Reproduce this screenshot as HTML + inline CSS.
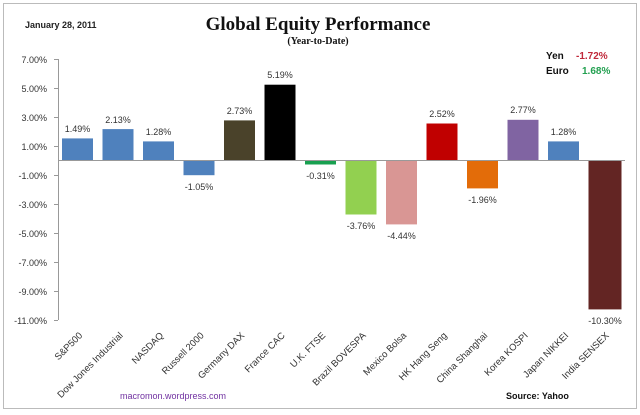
<!DOCTYPE html>
<html><head><meta charset="utf-8"><style>body{margin:0;background:#fff}svg{display:block}</style></head><body>
<svg width="640" height="415" xmlns="http://www.w3.org/2000/svg" font-family="Liberation Sans, sans-serif">
<rect x="0" y="0" width="640" height="415" fill="#fff"/>
<rect x="3.5" y="3.5" width="633" height="405" fill="none" stroke="#bbb"/>
<text x="25" y="28" font-size="9" font-weight="bold" fill="#222">January 28, 2011</text>
<text x="318" y="30" font-size="19" font-weight="bold" font-family="Liberation Serif, serif" text-anchor="middle" fill="#111">Global Equity Performance</text>
<text x="318" y="44" font-size="10" font-weight="bold" font-family="Liberation Serif, serif" text-anchor="middle" fill="#111">(Year-to-Date)</text>
<text x="546" y="59" font-size="10" font-weight="bold" fill="#111">Yen</text>
<text x="576" y="59" font-size="10" font-weight="bold" fill="#c0283a">-1.72%</text>
<text x="546" y="74" font-size="10" font-weight="bold" fill="#111">Euro</text>
<text x="582" y="74" font-size="10" font-weight="bold" fill="#22a050">1.68%</text>
<g font-size="9" fill="#333" text-anchor="end">
<text x="47" y="63">7.00%</text><text x="47" y="92">5.00%</text><text x="47" y="121">3.00%</text><text x="47" y="150">1.00%</text>
<text x="47" y="179">-1.00%</text><text x="47" y="208">-3.00%</text><text x="47" y="237">-5.00%</text><text x="47" y="266">-7.00%</text>
<text x="47" y="295">-9.00%</text><text x="47" y="324">-11.00%</text>
</g>
<g stroke="#999" stroke-width="1">
<line x1="58.5" y1="59" x2="58.5" y2="320"/>
<line x1="54" y1="59.5" x2="58" y2="59.5"/><line x1="54" y1="88.5" x2="58" y2="88.5"/><line x1="54" y1="117.5" x2="58" y2="117.5"/><line x1="54" y1="146.5" x2="58" y2="146.5"/>
<line x1="54" y1="175.5" x2="58" y2="175.5"/><line x1="54" y1="204.5" x2="58" y2="204.5"/><line x1="54" y1="233.5" x2="58" y2="233.5"/><line x1="54" y1="262.5" x2="58" y2="262.5"/>
<line x1="54" y1="291.5" x2="58" y2="291.5"/><line x1="54" y1="320.5" x2="58" y2="320.5"/>
</g>
<g>
<rect x="62" y="138.4" width="31" height="21.6" fill="#4f81bd"/>
<rect x="102.5" y="129.1" width="31" height="30.9" fill="#4f81bd"/>
<rect x="143" y="141.4" width="31" height="18.6" fill="#4f81bd"/>
<rect x="183.5" y="160" width="31" height="15.2" fill="#4f81bd"/>
<rect x="224" y="120.4" width="31" height="39.6" fill="#4a422a"/>
<rect x="264.5" y="84.7" width="31" height="75.3" fill="#000"/>
<rect x="305" y="160" width="31" height="4.5" fill="#18a050"/>
<rect x="345.5" y="160" width="31" height="54.5" fill="#92d050"/>
<rect x="386" y="160" width="31" height="64.4" fill="#d99694"/>
<rect x="426.5" y="123.5" width="31" height="36.5" fill="#c00000"/>
<rect x="467" y="160" width="31" height="28.4" fill="#e36c09"/>
<rect x="507.5" y="119.8" width="31" height="40.2" fill="#8064a2"/>
<rect x="548" y="141.4" width="31" height="18.6" fill="#4f81bd"/>
<rect x="588.5" y="160" width="33" height="149.4" fill="#632523"/>
</g>
<line x1="58" y1="160.5" x2="625" y2="160.5" stroke="#999"/>
<g font-size="9" fill="#333" text-anchor="middle">
<text x="77.5" y="132">1.49%</text><text x="118" y="123">2.13%</text><text x="158.5" y="135">1.28%</text>
<text x="199" y="190">-1.05%</text><text x="239.5" y="114">2.73%</text><text x="280" y="78">5.19%</text>
<text x="320.5" y="179">-0.31%</text><text x="361" y="229">-3.76%</text><text x="401.5" y="239">-4.44%</text>
<text x="442" y="117">2.52%</text><text x="482.5" y="203">-1.96%</text><text x="523" y="113">2.77%</text>
<text x="563.5" y="135">1.28%</text><text x="605" y="324">-10.30%</text>
</g>
<g font-size="9.5" fill="#333" text-anchor="end">
<text transform="translate(83,336) rotate(-45)">S&amp;P500</text>
<text transform="translate(123.5,336) rotate(-45)">Dow Jones Industrial</text>
<text transform="translate(164,336) rotate(-45)">NASDAQ</text>
<text transform="translate(204.5,336) rotate(-45)">Russell 2000</text>
<text transform="translate(245,336) rotate(-45)">Germany DAX</text>
<text transform="translate(285.5,336) rotate(-45)">France CAC</text>
<text transform="translate(326,336) rotate(-45)">U.K. FTSE</text>
<text transform="translate(366.5,336) rotate(-45)">Brazil BOVESPA</text>
<text transform="translate(407,336) rotate(-45)">Mexico Bolsa</text>
<text transform="translate(447.5,336) rotate(-45)">HK Hang Seng</text>
<text transform="translate(488,336) rotate(-45)">China Shanghai</text>
<text transform="translate(528.5,336) rotate(-45)">Korea KOSPI</text>
<text transform="translate(569,336) rotate(-45)">Japan NIKKEI</text>
<text transform="translate(609.5,336) rotate(-45)">India SENSEX</text>
</g>
<text x="120" y="399" font-size="9" fill="#7030a0">macromon.wordpress.com</text>
<text x="506" y="399" font-size="9" font-weight="bold" fill="#111">Source:  Yahoo</text>
</svg>
</body></html>
